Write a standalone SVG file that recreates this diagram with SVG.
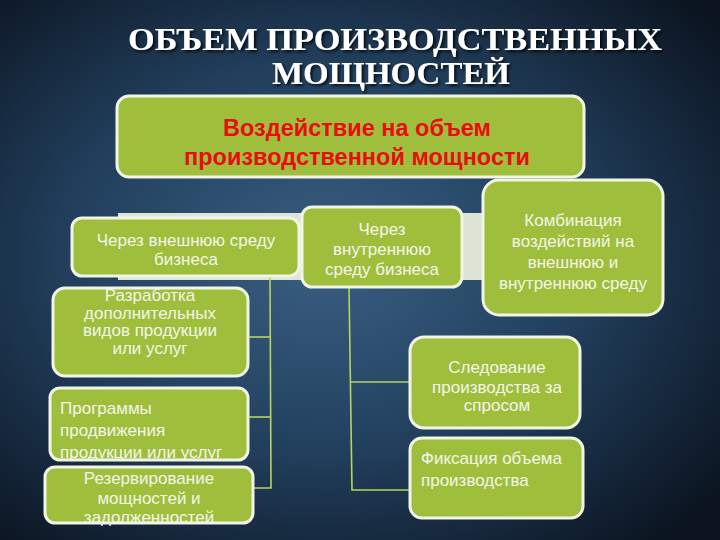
<svg xmlns="http://www.w3.org/2000/svg" width="720" height="540" viewBox="0 0 720 540">
<defs>
<radialGradient id="bg" cx="0.45" cy="0.48" r="0.7">
<stop offset="0" stop-color="#3a5f82"/>
<stop offset="0.5" stop-color="#22405e"/>
<stop offset="1" stop-color="#0b1420"/>
</radialGradient>
<filter id="sh" x="-10%" y="-30%" width="120%" height="160%">
<feDropShadow dx="2" dy="2" stdDeviation="1.5" flood-color="#000" flood-opacity="0.8"/>
</filter>
<style>
.box{fill:#9fbe3c;stroke:#f2f4e6;stroke-width:3}
.t{font-family:"Liberation Sans",Arial,sans-serif;fill:#f4f6ea;font-size:17px}
.c{text-anchor:middle}
.ln{stroke:#b8d45c;stroke-width:1.6;fill:none}
.title{font-family:"Liberation Serif","Times New Roman",serif;font-weight:bold;font-size:31px;fill:#ffffff;text-anchor:middle}
.red{font-family:"Liberation Sans",Arial,sans-serif;font-weight:bold;font-size:23.5px;fill:#e80c0c;text-anchor:middle}
</style>
</defs>
<rect width="720" height="540" fill="url(#bg)"/>
<g id="title" filter="url(#sh)">
<text class="title" x="395" y="50" textLength="534" lengthAdjust="spacingAndGlyphs">ОБЪЕМ ПРОИЗВОДСТВЕННЫХ</text>
<text class="title" x="391" y="84" textLength="238" lengthAdjust="spacingAndGlyphs">МОЩНОСТЕЙ</text>
</g>
<rect id="band" x="118" y="213" width="367" height="67" fill="#dfe5d6"/>
<g id="connectors">
<polyline class="ln" points="270,276 271,488 253,488"/>
<line class="ln" x1="248" y1="337" x2="270" y2="337"/>
<line class="ln" x1="248" y1="417" x2="271" y2="417"/>
<polyline class="ln" points="349,287 352,490 410,490"/>
<line class="ln" x1="350" y1="382" x2="410" y2="382"/>
</g>
<g id="n-top">
<rect class="box" x="117" y="96" width="467" height="81" rx="12"/>
<text class="red" x="357" y="136">Воздействие на объем</text>
<text class="red" x="357" y="165">производственной мощности</text>
</g>
<g id="n-ext">
<rect class="box" x="72" y="218" width="227" height="58" rx="10"/>
<text class="t c" x="186" y="246" font-size="18.5">Через внешнюю среду</text>
<text class="t c" x="186" y="265" font-size="18.5">бизнеса</text>
</g>
<g id="n-int">
<rect class="box" x="302" y="207" width="160" height="80" rx="10"/>
<text class="t c" x="382" y="235">Через</text>
<text class="t c" x="382" y="255">внутреннюю</text>
<text class="t c" x="382" y="275">среду бизнеса</text>
</g>
<g id="n-comb">
<rect class="box" x="483" y="180" width="180" height="135" rx="16"/>
<text class="t c" x="573" y="226" font-size="18">Комбинация</text>
<text class="t c" x="573" y="247" font-size="18">воздействий на</text>
<text class="t c" x="573" y="268" font-size="18">внешнюю и</text>
<text class="t c" x="573" y="289" font-size="18">внутреннюю среду</text>
</g>
<g id="n-dev">
<rect class="box" x="53" y="288" width="195" height="88" rx="12"/>
<text class="t c" x="150" y="301" font-size="14">Разработка</text>
<text class="t c" x="150" y="318.5" font-size="14">дополнительных</text>
<text class="t c" x="150" y="336" font-size="14">видов продукции</text>
<text class="t c" x="150" y="353.5" font-size="14">или услуг</text>
</g>
<g id="n-prom">
<rect class="box" x="50" y="388" width="198" height="72" rx="10"/>
<text class="t" x="60" y="414" font-size="19">Программы</text>
<text class="t" x="60" y="436" font-size="19">продвижения</text>
<text class="t" x="60" y="458" font-size="19">продукции или услуг</text>
</g>
<g id="n-res">
<rect class="box" x="45" y="467" width="208" height="56" rx="10"/>
<text class="t c" x="149" y="484" font-size="16">Резервирование</text>
<text class="t c" x="149" y="504" font-size="16">мощностей и</text>
<text class="t c" x="149" y="523" font-size="16">задолженностей</text>
</g>
<g id="n-follow">
<rect class="box" x="410" y="337" width="170" height="91" rx="14"/>
<text class="t c" x="497" y="373">Следование</text>
<text class="t c" x="497" y="393">производства за</text>
<text class="t c" x="497" y="411">спросом</text>
</g>
<g id="n-fix">
<rect class="box" x="410" y="438" width="173" height="80" rx="12"/>
<text class="t" x="421" y="464" font-size="18">Фиксация объема</text>
<text class="t" x="421" y="486" font-size="18">производства</text>
</g>
</svg>
